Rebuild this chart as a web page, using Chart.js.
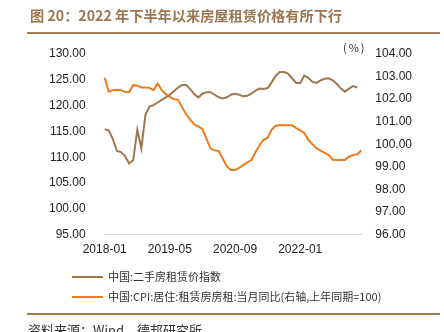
<!DOCTYPE html>
<html><head><meta charset="utf-8">
<script src="https://cdn.jsdelivr.net/npm/chart.js@4/dist/chart.umd.min.js"></script>
<style>
html,body{margin:0;padding:0;background:#fff;}
#wrap{position:relative;width:444px;height:332px;overflow:hidden;font-family:"Noto Sans CJK SC","Liberation Sans",sans-serif;}
#c{position:absolute;left:0;top:0;}
.abs{position:absolute;white-space:nowrap;}
#title{left:30px;top:5px;font-size:14.2px;font-weight:bold;color:#9b7653;}
.rule{position:absolute;left:27px;width:413px;height:2px;background:#a57b55;}
.leg{position:absolute;left:72px;font-size:11px;color:#333;}
.leg span.l{display:inline-block;width:31px;height:2px;vertical-align:middle;margin-right:5px;position:relative;top:-1px;}
</style></head>
<body><div id="wrap">
<canvas id="c" width="444" height="332"></canvas>
<div id="title" class="abs">图 20：2022 年下半年以来房屋租赁价格有所下行</div>
<div class="rule" style="top:32px"></div>
<div class="abs" style="left:343px;top:39px;font-size:11px;color:#333;letter-spacing:2px;">(%)</div>
<div class="leg" style="top:268px"><span class="l" style="background:#a0784f"></span>中国:二手房租赁价指数</div>
<div class="leg" style="top:288px"><span class="l" style="background:#ee7b1a"></span>中国:CPI:居住:租赁房房租:当月同比(右轴,上年同期=100)</div>
<div class="rule" style="top:313px"></div>
<div class="abs" style="left:28px;top:320px;font-size:13px;color:#333;">资料来源：Wind，德邦研究所</div>
</div>
<script>
const months = [];
for (let y = 2018; y <= 2023; y++) {
  for (let m = 1; m <= 12; m++) {
    if (y === 2023 && m > 4) break;
    months.push(y + '-' + String(m).padStart(2, '0'));
  }
}
const rentIndex = [115.4,115.2,113.5,111.2,111.0,110.2,108.8,109.4,115.3,111.7,118.2,119.8,120.1,120.6,121.1,121.6,
122.1,122.8,123.5,124.0,124.0,123.2,122.2,121.6,122.3,122.6,122.6,122.1,121.6,121.4,121.6,122.1,
122.3,122.1,121.8,121.9,122.3,122.9,123.3,123.2,123.4,124.5,125.8,126.5,126.5,126.2,125.3,124.4,
124.4,125.8,125.4,124.6,124.4,124.9,125.2,125.3,124.9,124.2,123.3,122.7,123.3,123.8,123.5,null];
const cpiRent = [102.95,102.33,102.40,102.42,102.40,102.32,102.31,102.62,102.60,102.52,102.52,102.50,102.40,102.69,102.40,102.22,
102.10,102.00,101.97,101.64,101.33,101.09,100.88,100.78,100.68,100.24,99.80,99.73,99.70,99.36,99.02,98.86,
98.86,98.95,99.08,99.20,99.30,99.65,99.95,100.20,100.28,100.65,100.82,100.84,100.84,100.84,100.84,100.72,
100.62,100.50,100.20,100.00,99.83,99.72,99.62,99.52,99.32,99.31,99.31,99.31,99.45,99.52,99.56,99.72];
const leftTicks = [95,100,105,110,115,120,125,130];
const rightTicks = [96,97,98,99,100,101,102,103,104];

const tickFont = {family:'"Liberation Sans", Arial, sans-serif', size:12};
new Chart(document.getElementById('c'), {
  type:'line',
  data:{labels:months, datasets:[
    {label:'中国:二手房租赁价指数', data:rentIndex, borderColor:'#a0784f', borderWidth:2, pointRadius:0, tension:0, yAxisID:'y'},
    {label:'中国:CPI:居住:租赁房房租:当月同比(右轴,上年同期=100)', data:cpiRent, borderColor:'#ee7b1a', borderWidth:2, pointRadius:0, tension:0, yAxisID:'y1'}
  ]},
  options:{
    responsive:false, animation:false,
    layout:{padding:{left:30,right:18,top:54,bottom:67}},
    plugins:{legend:{display:false}, tooltip:{enabled:false}},
    scales:{
      x:{offset:false, grid:{display:false, drawTicks:false}, border:{display:true,color:'#d9d9d9',width:1},
         ticks:{autoSkip:false, maxRotation:0, padding:8, color:'#222', font:tickFont,
           callback:function(v,i){return i%16===0?months[i]:'';}}},
      y:{position:'left', min:95, max:130, afterBuildTicks:a=>{a.ticks=leftTicks.map(v=>({value:v}));},
         grid:{display:false, drawTicks:false}, border:{display:false},
         ticks:{padding:19, color:'#222', font:tickFont, callback:v=>v.toFixed(2)}},
      y1:{position:'right', min:96, max:104, afterBuildTicks:a=>{a.ticks=rightTicks.map(v=>({value:v}));},
         grid:{display:false, drawTicks:false}, border:{display:false},
         ticks:{padding:14, color:'#222', font:tickFont, callback:v=>v.toFixed(2)}}
    }
  }
});
</script></body></html>
